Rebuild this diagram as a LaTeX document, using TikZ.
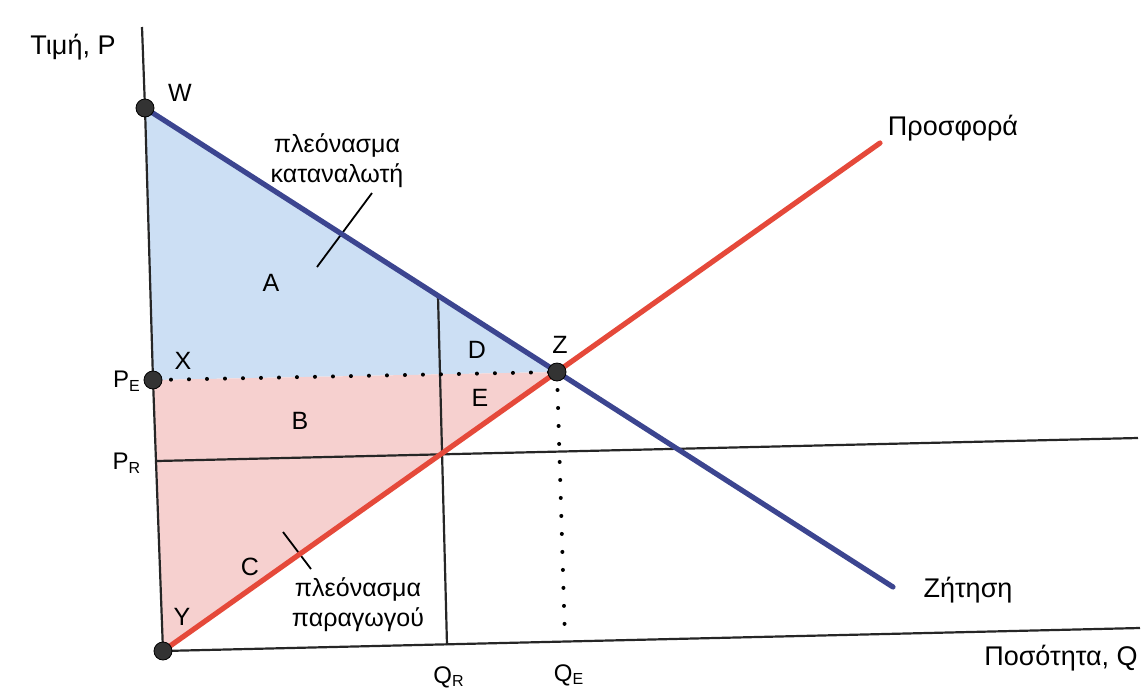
\documentclass[tikz,border=0pt]{standalone}
\usepackage{fontspec}
\setmainfont{Liberation Sans}
\definecolor{dblue}{HTML}{3C4590}
\definecolor{sred}{HTML}{E5493A}
\definecolor{fblue}{HTML}{CCDFF4}
\definecolor{fpink}{HTML}{F6D0CF}
\definecolor{dot}{HTML}{333333}
\tikzset{
  ax/.style={line width=1.1pt, black!85},
  demand/.style={line width=2.6pt, dblue},
  supply/.style={line width=2.6pt, sred},
  dotline/.style={line width=2pt, black, dash pattern=on 0pt off 9pt, line cap=round},
  pt/.style={circle, fill=dot, draw=black, line width=0.4pt, minimum size=9pt, inner sep=0pt},
  lbl/.style={font=\fontsize{12.5}{14}\selectfont, inner sep=0pt},
  sub/.style={font=\fontsize{12}{14}\selectfont, inner sep=0pt},
  big/.style={font=\fontsize{12.5}{15}\selectfont, inner sep=0pt, align=center},
  curvelbl/.style={font=\fontsize{13.5}{15}\selectfont, inner sep=0pt},
  leader/.style={line width=0.9pt, black}
}
\begin{document}
\begin{tikzpicture}[x=0.5pt, y=-0.5pt]
\useasboundingbox (0,0) rectangle (1148,692);
% key points
\coordinate (axtop) at (142,27);
\coordinate (Wc) at (145,108);
\coordinate (PEc) at (153,380);
\coordinate (PRa) at (157,461);
\coordinate (Yc) at (163,651);
\coordinate (Zc) at (557,372);
\coordinate (Dend) at (893,587);
\coordinate (Send) at (880,143);
\coordinate (PRend) at (1138,438);
\coordinate (Qend) at (1140,628);
\coordinate (QRtop) at (438,296);
\coordinate (QRbot) at (447,645);
\coordinate (QEbot) at (565,640);
% fills
\fill[fblue] (Wc) -- (Zc) -- (PEc) -- cycle;
\fill[fpink] (PEc) -- (Zc) -- (Yc) -- cycle;
% axes and lines
\draw[ax] (axtop) -- (Wc) -- (PEc) -- (Yc);
\draw[ax] (Yc) -- (Qend);
\draw[ax] (PRa) -- (PRend);
\draw[ax] (QRtop) -- (QRbot);
\draw[dotline] (PEc) -- (Zc);
\draw[dotline] (Zc) -- (QEbot);
% leaders
\coordinate (l1a) at (372,193);
\coordinate (l1b) at (317,267);
\draw[leader] (l1a) -- (l1b);
\coordinate (l2a) at (283,532);
\coordinate (l2b) at (311,569);
\draw[leader] (l2a) -- (l2b);
% curves
\draw[demand, line cap=round] (Wc) -- (Dend);
\draw[supply, line cap=round] (Yc) -- (Send);
% points
\node[pt] (W) at (Wc) {};
\node[pt] (PE) at (PEc) {};
\node[pt] (Z) at (Zc) {};
\node[pt] (Y) at (Yc) {};
% labels
\node[curvelbl] (tP) at (73,47) {Τιμή, P};
\node[lbl] (lW) at (180,93) {W};
\node[big] (cs) at (337,161) {πλεόνασμα\\καταναλωτή};
\node[lbl] (lA) at (271,283) {A};
\node[lbl] (lD) at (477,350) {D};
\node[lbl] (lZ) at (560,345) {Z};
\node[lbl] (lE) at (480,398) {E};
\node[lbl] (lX) at (183,361) {X};
\node[sub] (lPE) at (127,381) {P\textsubscript{E}};
\node[lbl] (lB) at (300,421) {B};
\node[sub] (lPR) at (127,463) {P\textsubscript{R}};
\node[lbl] (lC) at (250,567) {C};
\node[big] (ps) at (358,605) {πλεόνασμα\\παραγωγού};
\node[lbl] (lY) at (182,617) {Y};
\node[sub] (lQR) at (449,677) {Q\textsubscript{R}};
\node[sub] (lQE) at (569,675) {Q\textsubscript{E}};
\node[curvelbl] (lq) at (1061,658) {Ποσότητα, Q};
\node[curvelbl] (lzit) at (968,590) {Ζήτηση};
\node[curvelbl] (lpro) at (953,128) {Προσφορά};
\end{tikzpicture}
\end{document}
